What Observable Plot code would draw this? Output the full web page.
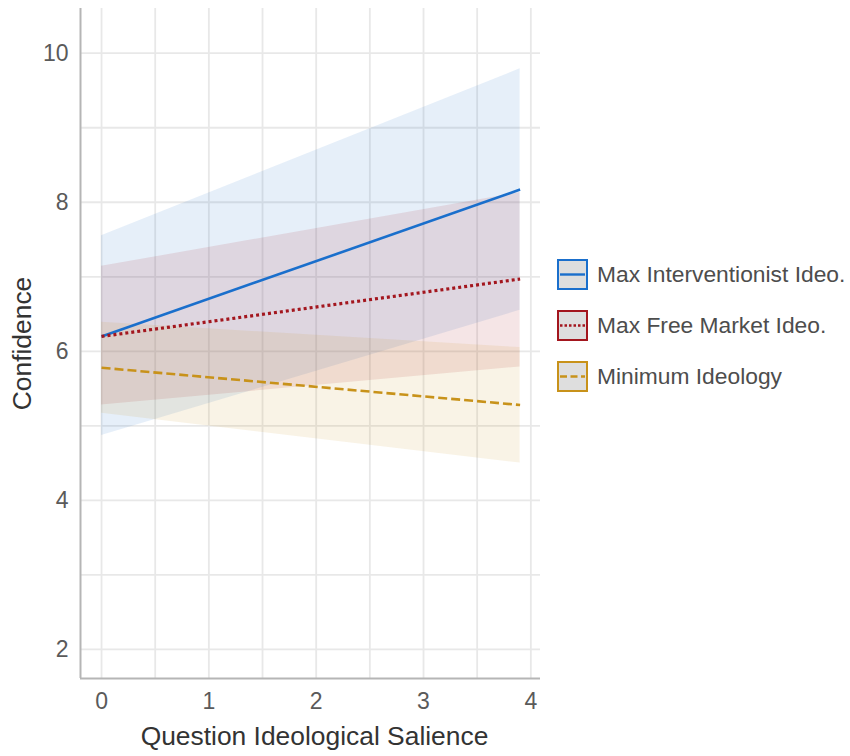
<!DOCTYPE html>
<html>
<head>
<meta charset="utf-8">
<script src="https://cdn.jsdelivr.net/npm/d3@7"></script>
<script src="https://cdn.jsdelivr.net/npm/@observablehq/plot@0.6"></script>
<style>
  html, body { margin: 0; padding: 0; background: #fff; }
  #wrap { position: relative; width: 850px; height: 756px; font-family: "Liberation Sans", Arial, sans-serif; }
  #legend { position: absolute; left: 557px; top: 259px; }
  .item { display: flex; align-items: center; height: 31px; margin-bottom: 20px; }
  .item svg { display: block; margin-right: 9px; }
  .item span { font-size: 22.8px; color: #4d4d4d; white-space: nowrap; }
  svg g[aria-label="x-axis tick label"], svg g[aria-label="y-axis tick label"] { font-size: 23px; }
</style>
</head>
<body>
<div id="wrap"><div id="legend"></div></div>
<script>
// ---- data ----
const xValues = [0, 3.9];
const seriesNames = ["Max Interventionist Ideo.", "Max Free Market Ideo.", "Minimum Ideology"];
const fitInterventionist = [6.20, 8.17];
const lowInterventionist = [4.87, 6.55];
const highInterventionist = [7.55, 9.79];
const fitFreeMarket = [6.20, 6.97];
const lowFreeMarket = [5.28, 5.79];
const highFreeMarket = [7.14, 8.13];
const fitMinimum = [5.78, 5.28];
const lowMinimum = [5.17, 4.50];
const highMinimum = [6.39, 6.05];
const xTicks = [0, 1, 2, 3, 4];
const yTicks = [2, 4, 6, 8, 10];
const xGrid = [0, 0.5, 1, 1.5, 2, 2.5, 3, 3.5, 4];
const yGrid = [2, 3, 4, 5, 6, 7, 8, 9, 10];
const xDomain = [-0.196, 4.09];
const yDomain = [1.61, 10.6];

// ---- styles ----
const colors = ["#1a6fcc", "#a3161e", "#c8921a"];
const dashes = [null, "3,3", "9,4"];

const fits = [fitInterventionist, fitFreeMarket, fitMinimum];
const lows = [lowInterventionist, lowFreeMarket, lowMinimum];
const highs = [highInterventionist, highFreeMarket, highMinimum];

const rows = [];
seriesNames.forEach((s, k) => {
  xValues.forEach((x, i) => {
    rows.push({series: s, x, fit: fits[k][i], low: lows[k][i], high: highs[k][i]});
  });
});

const bandMarks = seriesNames.map((s, k) =>
  Plot.areaY(rows.filter(d => d.series === s), {
    x: "x", y1: "low", y2: "high", fill: colors[k], fillOpacity: 0.11
  })
);
const lineMarks = seriesNames.map((s, k) =>
  Plot.line(rows.filter(d => d.series === s), {
    x: "x", y: "fit", stroke: colors[k], strokeWidth: k === 1 ? 3.2 : 2.6,
    strokeDasharray: dashes[k], strokeLinecap: "butt"
  })
);

const chart = Plot.plot({
  width: 850,
  height: 756,
  marginLeft: 80,
  marginRight: 310,
  marginTop: 8,
  marginBottom: 78,
  x: {domain: xDomain},
  y: {domain: yDomain},
  style: {fontFamily: "'Liberation Sans', Arial, sans-serif", background: "#fff"},
  marks: [
    Plot.gridX(xGrid, {stroke: "#e8e8e8", strokeOpacity: 1, strokeWidth: 1.8}),
    Plot.gridY(yGrid, {stroke: "#e8e8e8", strokeOpacity: 1, strokeWidth: 1.8}),
    ...bandMarks,
    ...lineMarks,
    Plot.ruleX([xDomain[0]], {stroke: "#b5b5b5", strokeWidth: 2}),
    Plot.ruleY([yDomain[0]], {stroke: "#b5b5b5", strokeWidth: 2}),
    Plot.axisX(xTicks, {tickSize: 0, tickPadding: 14, fontSize: 23, fill: "#5a5a5a", label: null, tickFormat: d => String(d)}),
    Plot.axisY(yTicks, {tickSize: 0, tickPadding: 12, fontSize: 23, fill: "#5a5a5a", label: null, tickFormat: d => String(d)}),
    Plot.text(["Question Ideological Salience"], {frameAnchor: "bottom", dx: 4, dy: 66, fontSize: 26.4, fill: "#333"}),
    Plot.text(["Confidence"], {frameAnchor: "left", textAnchor: "middle", rotate: -90, dx: -58, fontSize: 26.4, fill: "#333"})
  ]
});
document.getElementById("wrap").prepend(chart);

// ---- legend ----
const legend = document.getElementById("legend");
seriesNames.forEach((s, k) => {
  const item = document.createElement("div");
  item.className = "item";
  const dash = dashes[k] ? `stroke-dasharray="${k === 1 ? "2.5,2" : "7,3.5"}"` : "";
  item.innerHTML = `<svg width="31" height="31"><rect x="1" y="1" width="29" height="29" fill="#dedede" stroke="${colors[k]}" stroke-width="2"/><line x1="3" x2="28" y1="15.5" y2="15.5" stroke="${colors[k]}" stroke-width="${k === 1 ? 2.6 : 2.4}" ${dash}/></svg><span>${s}</span>`;
  legend.appendChild(item);
});
</script>
</body>
</html>
